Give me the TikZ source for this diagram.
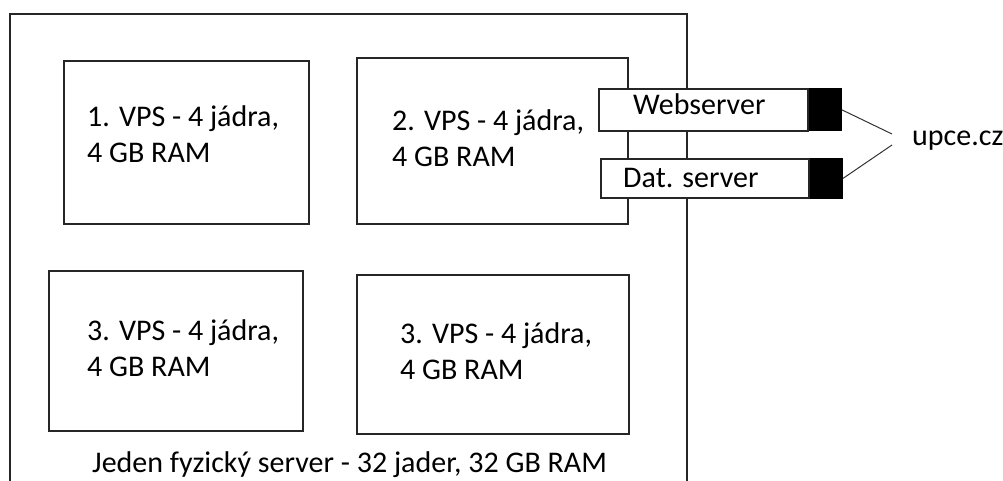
\documentclass[tikz,border=0pt]{standalone}
\usepackage{fontspec}
\setmainfont{Carlito}
\begin{document}
\begin{tikzpicture}[x=1pt,y=-1pt,
  edge/.style={draw=black!85, line width=1.8pt},
  vpsbox/.style={edge, fill=white, inner sep=0pt, anchor=north west},
  port/.style={draw=black, fill=black, line width=1.2pt, inner sep=0pt, minimum width=32pt, anchor=west},
  txt/.style={font=\fontsize{30}{36}\selectfont, inner sep=0pt, anchor=base west, align=left},
  wire/.style={draw=black!80, line width=1pt}]
\useasboundingbox (0,0) rectangle (1003,481);

% physical server frame, open towards the bottom
\draw[edge] (10,481) |- (687,14) -- (687,481);

% virtual servers
\node[vpsbox, minimum width=245pt, minimum height=163pt] (vps1) at (63,60) {};
\node[vpsbox, minimum width=271pt, minimum height=166pt] (vps2) at (356,57) {};
\node[vpsbox, minimum width=254pt, minimum height=160pt] (vps3) at (48,270) {};
\node[vpsbox, minimum width=272pt, minimum height=159pt] (vps4) at (356,274) {};

% two-line labels: the base anchor sits on the second line
\node[txt] (t1) at (87,163) {1. VPS - 4 jádra,\\4 GB RAM};
\node[txt] (t2) at (392,167) {2. VPS - 4 jádra,\\4 GB RAM};
\node[txt] (t3) at (87,376) {3. VPS - 4 jádra,\\4 GB RAM};
\node[txt] (t4) at (400,379) {3. VPS - 4 jádra,\\4 GB RAM};

\node[txt] (phys) at (92,472) {Jeden fyzický server - 32 jader, 32 GB RAM};

% services running on VPS 2
\node[vpsbox, minimum width=209pt, minimum height=42pt] (web) at (598,88) {};
\node[port, minimum height=42pt] (webport) at (web.east) {};
\node[txt] (webtxt) at (633,115) {Webserver};

\node[vpsbox, minimum width=208pt, minimum height=39pt] (dat) at (600,158) {};
\node[port, minimum height=39pt] (datport) at (dat.east) {};
\node[txt] (dattxt) at (623,187) {Dat. server};

% domain
\node[txt] (domain) at (912,146) {upce.cz};
\coordinate (j1) at (892,134);
\coordinate (j2) at (892,145);
\draw[wire] (webport.east) -- (j1);
\draw[wire] (datport.east) -- (j2);
\end{tikzpicture}
\end{document}
